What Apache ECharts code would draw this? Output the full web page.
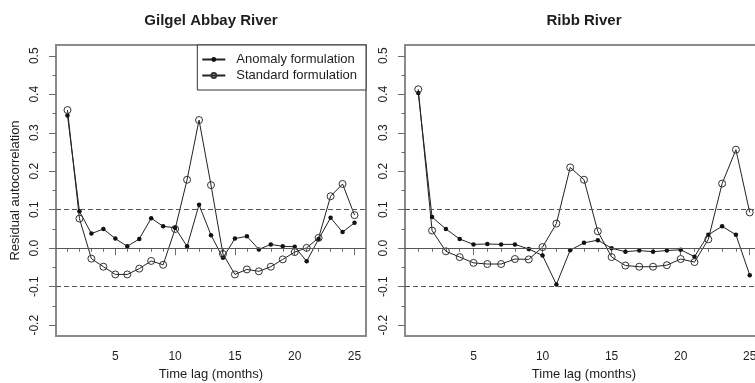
<!DOCTYPE html>
<html>
<head>
<meta charset="utf-8">
<script src="https://cdn.jsdelivr.net/npm/echarts@6/dist/echarts.min.js"></script>
<style>
html,body{margin:0;padding:0;background:#fff;}
#chart{width:755px;height:383px;}
</style>
</head>
<body>
<div id="chart"></div>
<script>
// ---- data ----
const lags = [1,2,3,4,5,6,7,8,9,10,11,12,13,14,15,16,17,18,19,20,21,22,23,24,25];
const xTickLabels = [5,10,15,20,25];
const yTickLabels = [-0.2,-0.1,0,0.1,0.2,0.3,0.4,0.5];
const yMinorTicks = [-0.15,-0.05,0.05,0.15,0.25,0.35,0.45];
const refLines = [-0.1, 0, 0.1];
const panelTitles = ['Gilgel Abbay River', 'Ribb River'];
const seriesNames = ['Anomaly formulation', 'Standard formulation'];

const gilgelAnomaly = [0.345,0.096,0.038,0.050,0.025,0.005,0.024,0.078,0.057,0.053,0.005,0.113,0.034,-0.025,0.025,0.031,-0.003,0.010,0.005,0.004,-0.034,0.024,0.079,0.042,0.066];
const gilgelStandard = [0.359,0.077,-0.027,-0.048,-0.068,-0.068,-0.053,-0.033,-0.043,0.050,0.178,0.333,0.164,-0.015,-0.068,-0.055,-0.060,-0.048,-0.029,-0.010,0.001,0.027,0.135,0.167,0.086];
const ribbAnomaly = [0.403,0.081,0.050,0.024,0.010,0.011,0.010,0.010,-0.002,-0.019,-0.094,-0.005,0.014,0.021,0.000,-0.009,-0.006,-0.009,-0.006,-0.004,-0.022,0.035,0.057,0.035,-0.070];
const ribbStandard = [0.413,0.046,-0.008,-0.023,-0.038,-0.041,-0.041,-0.028,-0.029,0.003,0.064,0.210,0.178,0.044,-0.023,-0.045,-0.048,-0.048,-0.044,-0.028,-0.036,0.023,0.168,0.256,0.093];

// ---- build ----
const FONT = "'Liberation Sans', Arial, Helvetica, sans-serif";
const TXT = '#1e1e1e';
const AX = '#6a6a6a';
const X_MIN = 0.04, X_MAX = 25.96, Y_MIN = -0.228, Y_MAX = 0.528;

const pairs = vals => lags.map((l, i) => [l, vals[i]]);

const grids = [
  {left: 56, top: 45, right: 389, bottom: 47},
  {left: 405, top: 45, right: -8, bottom: 47}
];

function xAxes(g) {
  return [
    {
      gridIndex: g, type: 'value', position: 'bottom', min: X_MIN, max: X_MAX,
      axisLine: {show: false}, splitLine: {show: false},
      axisTick: {customValues: xTickLabels, length: 7, lineStyle: {color: AX, width: 1}},
      axisLabel: {customValues: xTickLabels, margin: 15, fontSize: 12, color: TXT, fontFamily: FONT},
      name: 'Time lag (months)', nameLocation: 'middle', nameGap: 32,
      nameTextStyle: {fontSize: 13, color: TXT, fontFamily: FONT}
    },
    {
      gridIndex: g, type: 'value', position: 'bottom', min: X_MIN, max: X_MAX,
      axisLine: {show: false}, splitLine: {show: false},
      axisTick: {customValues: lags, length: 3.5, lineStyle: {color: AX, width: 1}},
      axisLabel: {show: false}
    }
  ];
}
function yAxes(g) {
  const main = {
    gridIndex: g, type: 'value', position: 'left', min: Y_MIN, max: Y_MAX,
    axisLine: {show: false}, splitLine: {show: false},
    axisTick: {customValues: yTickLabels, length: 7, lineStyle: {color: AX, width: 1}},
    axisLabel: {customValues: yTickLabels, margin: 15, rotate: 90, fontSize: 12, color: TXT, fontFamily: FONT,
      formatter: v => (Math.abs(v) < 1e-9 ? 0 : v).toFixed(1)}
  };
  if (g === 0) {
    main.name = 'Residual autocorrelation';
    main.nameLocation = 'middle';
    main.nameRotate = 90;
    main.nameGap = 34;
    main.nameTextStyle = {fontSize: 13, color: TXT, fontFamily: FONT};
  }
  return [
    main,
    {
      gridIndex: g, type: 'value', position: 'left', min: Y_MIN, max: Y_MAX,
      axisLine: {show: false}, splitLine: {show: false},
      axisTick: {customValues: yMinorTicks, length: 3.5, lineStyle: {color: AX, width: 1}},
      axisLabel: {show: false}
    }
  ];
}

function refMarkLine() {
  return {
    silent: true, symbol: 'none', label: {show: false}, animation: false,
    data: refLines.map(v => ({
      yAxis: v,
      lineStyle: {color: '#555', width: 1.2, type: v === 0 ? 'solid' : [5, 3]}
    }))
  };
}

function seriesFor(g, anomaly, standard) {
  return [
    {
      type: 'line', name: seriesNames[0], xAxisIndex: g * 2, yAxisIndex: g * 2,
      data: pairs(anomaly), symbol: 'circle', symbolSize: 4.5,
      itemStyle: {color: '#111'}, lineStyle: {color: '#222', width: 1},
      markLine: refMarkLine(), z: 3
    },
    {
      type: 'line', name: seriesNames[1], xAxisIndex: g * 2, yAxisIndex: g * 2,
      data: pairs(standard), symbol: 'circle', symbolSize: 7,
      itemStyle: {color: 'rgba(255,255,255,0)', borderColor: '#333', borderWidth: 1},
      lineStyle: {color: '#222', width: 1}, z: 3
    }
  ];
}

const option = {
  animation: false,
  backgroundColor: '#fff',
  textStyle: {fontFamily: FONT},
  title: [
    {text: panelTitles[0], left: 211, top: 13, padding: 0, textAlign: 'center',
     textStyle: {fontSize: 15, fontWeight: 'bold', color: TXT, fontFamily: FONT}},
    {text: panelTitles[1], left: 584, top: 13, padding: 0, textAlign: 'center',
     textStyle: {fontSize: 15, fontWeight: 'bold', color: TXT, fontFamily: FONT}}
  ],
  legend: {
    data: seriesNames, orient: 'vertical', right: 389, top: 45,
    itemWidth: 23, itemHeight: 6, itemGap: 3,
    padding: [8, 9, 8, 4],
    borderColor: '#333', borderWidth: 1, backgroundColor: '#fff',
    textStyle: {fontSize: 13, color: TXT, fontFamily: FONT, padding: [0, 0, 0, 6]},
    selectedMode: false
  },
  grid: grids.map(g => Object.assign({show: true, borderColor: '#8a8a8a', borderWidth: 2, backgroundColor: 'transparent', outerBoundsMode: 'none', containLabel: false}, g)),
  xAxis: [...xAxes(0), ...xAxes(1)],
  yAxis: [...yAxes(0), ...yAxes(1)],
  series: [...seriesFor(0, gilgelAnomaly, gilgelStandard), ...seriesFor(1, ribbAnomaly, ribbStandard)]
};

const chart = echarts.init(document.getElementById('chart'), null, {renderer: 'canvas'});
chart.setOption(option);
</script>
</body>
</html>
